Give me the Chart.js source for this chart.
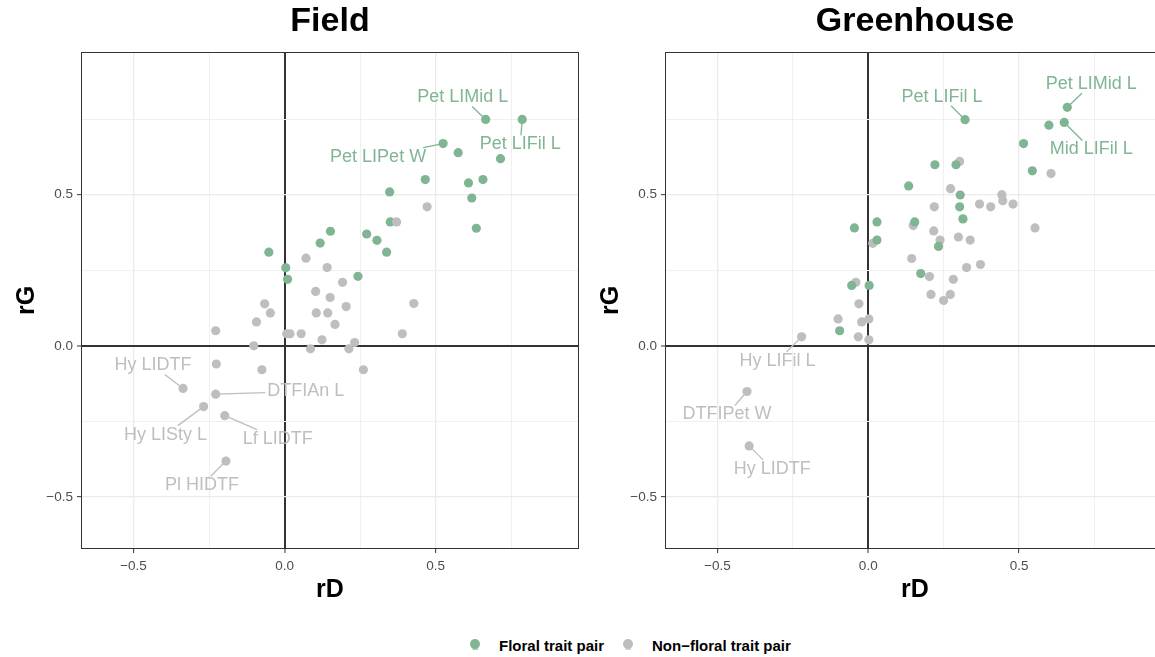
<!DOCTYPE html>
<html>
<head>
<meta charset="utf-8">
<script src="https://cdn.jsdelivr.net/npm/chart.js@4.4.1/dist/chart.umd.min.js"></script>
<style>
  html, body { margin: 0; padding: 0; background: #fff; width: 1155px; height: 657px; overflow: hidden; position: relative; }
  canvas { position: absolute; top: 0; }
  #field { left: 0; }
  #house { left: 584px; }
  #legend { position: absolute; top: 636px; left: 466px; display: flex; align-items: center; white-space: nowrap;
            font: bold 15px "Liberation Sans", Helvetica, Arial, sans-serif; color: #000; }
  .key { position: relative; width: 18px; height: 18px; margin-right: 15px; }
  .key .dot { position: absolute; left: 4px; top: 3px; width: 10px; height: 10px; border-radius: 50%; }
  .key .glyph { position: absolute; left: 6px; top: 3px; font: 11px "Liberation Sans", Arial, sans-serif; line-height: 14px; }
  .item2 { margin-left: 15px; }
</style>
</head>
<body>
<canvas id="field" width="585" height="610"></canvas>
<canvas id="house" width="587" height="610"></canvas>
<div id="legend">
  <span class="key"><span class="dot" style="background:#80b593"></span><span class="glyph" style="color:#80b593">a</span></span>
  <span>Floral trait pair</span>
  <span class="key item2"><span class="dot" style="background:#bebebe"></span><span class="glyph" style="color:#bebebe">a</span></span>
  <span>Non−floral trait pair</span>
</div>
<script>
const FONT = '"Liberation Sans", Helvetica, Arial, sans-serif';
Chart.defaults.font.family = FONT;

// axis ticks that carry a label
const tickValues = [-0.5, 0, 0.5];
const tickLabels = ['−0.5', '0.0', '0.5'];

// Field: floral trait pairs (labelled ones first)
const fieldFloralNames = ['Pet LIMid L', 'Pet LIFil L', 'Pet LIPet W'];
const fieldFloralX = [0.666, 0.787, 0.525, 0.575, 0.715, 0.466, 0.609, 0.657, 0.620, 0.348, 0.350,
  0.635, 0.152, 0.118, 0.272, 0.306, 0.338, -0.052, 0.004, 0.010, 0.243];
const fieldFloralY = [0.749, 0.749, 0.669, 0.639, 0.619, 0.550, 0.539, 0.550, 0.489, 0.509, 0.410,
  0.389, 0.379, 0.340, 0.370, 0.349, 0.310, 0.310, 0.258, 0.220, 0.230];

// Field: non-floral trait pairs
const fieldOtherNames = ['Hy LIDTF', 'DTFIAn L', 'Hy LISty L', 'Lf LIDTF', 'Pl HIDTF'];
const fieldOtherX = [-0.336, -0.228, -0.268, -0.198, -0.194, 0.472, 0.371, 0.071, 0.141, 0.192,
  0.103, 0.151, 0.204, 0.428, -0.066, -0.047, 0.105, 0.143, -0.093, 0.167, -0.228, 0.007, 0.018,
  0.055, 0.390, 0.124, -0.102, 0.086, 0.213, 0.232, -0.226, -0.075, 0.261];
const fieldOtherY = [-0.141, -0.160, -0.201, -0.231, -0.381, 0.460, 0.410, 0.290, 0.259, 0.210,
  0.180, 0.160, 0.130, 0.140, 0.139, 0.109, 0.109, 0.109, 0.079, 0.071, 0.050, 0.040, 0.040,
  0.040, 0.040, 0.020, 0.000, -0.010, -0.010, 0.011, -0.060, -0.079, -0.079];

// Greenhouse: floral trait pairs
const houseFloralNames = ['Pet LIFil L', 'Pet LIMid L', 'Mid LIFil L'];
const houseFloralX = [0.321, 0.660, 0.650, 0.599, 0.515, 0.544, 0.221, 0.291, 0.134, 0.305, 0.303,
  0.314, 0.029, 0.154, -0.046, 0.029, 0.233, 0.174, -0.055, 0.003, -0.095];
const houseFloralY = [0.748, 0.789, 0.739, 0.730, 0.669, 0.579, 0.599, 0.599, 0.529, 0.499, 0.460,
  0.420, 0.410, 0.410, 0.390, 0.350, 0.329, 0.239, 0.200, 0.200, 0.050];

// Greenhouse: non-floral trait pairs
const houseOtherNames = ['Hy LIFil L', 'DTFIPet W', 'Hy LIDTF'];
const houseOtherX = [-0.221, -0.402, -0.395, 0.303, 0.606, 0.273, 0.443, 0.446, 0.480, 0.369,
  0.406, 0.219, 0.553, 0.217, 0.149, 0.015, 0.238, 0.299, 0.338, 0.144, 0.372, 0.326, 0.203,
  0.282, 0.208, 0.272, 0.250, -0.041, -0.031, -0.100, -0.022, 0.002, -0.033, 0.002];
const houseOtherY = [0.030, -0.151, -0.331, 0.610, 0.570, 0.520, 0.500, 0.480, 0.469, 0.469,
  0.460, 0.460, 0.390, 0.380, 0.398, 0.339, 0.350, 0.360, 0.350, 0.289, 0.269, 0.259, 0.229,
  0.220, 0.170, 0.170, 0.150, 0.210, 0.139, 0.089, 0.079, 0.089, 0.030, 0.020];

const floralColor = '#80b593';
const otherColor = '#bebebe';

// where each text label sits relative to its point, in pixels
const fieldTagOffsets = {
  'Pet LIMid L': [-23, -22], 'Pet LIFil L': [-2, 25], 'Pet LIPet W': [-65, 13],
  'Hy LIDTF': [-30, -23], 'DTFIAn L': [90, -3], 'Hy LISty L': [-38, 28],
  'Lf LIDTF': [53, 23], 'Pl HIDTF': [-24, 24]
};
const houseTagOffsets = {
  'Pet LIFil L': [-23, -23], 'Pet LIMid L': [24, -23], 'Mid LIFil L': [27, 27],
  'Hy LIFil L': [-24, 24], 'DTFIPet W': [-20, 23], 'Hy LIDTF': [23, 23]
};

function toPoints(xs, ys) {
  return xs.map((x, i) => ({ x: x, y: ys[i] }));
}

function near(a, b) { return Math.abs(a - b) < 1e-6; }
function tickText(v) {
  const i = tickValues.findIndex(t => near(t, v));
  return i < 0 ? '' : tickLabels[i];
}
function isMajor(v) { return tickValues.some(t => near(t, v)); }

// ggplot-like panel border on all four sides
const panelFrame = {
  id: 'panelFrame',
  afterDraw(chart) {
    const a = chart.chartArea, c = chart.ctx;
    c.save();
    c.strokeStyle = '#333';
    c.lineWidth = 1;
    c.strokeRect(a.left + 0.5, a.top + 0.5, a.right - a.left - 1, a.bottom - a.top - 1);
    c.restore();
  }
};

// text labels with leader segments for the named points
function eachTag(chart, offsets, fn) {
  const xs = chart.scales.x, ys = chart.scales.y;
  chart.data.datasets.forEach(ds => {
    (ds.names || []).forEach((name, i) => {
      const off = offsets[name];
      if (!off) return;
      const px = xs.getPixelForValue(ds.data[i].x);
      const py = ys.getPixelForValue(ds.data[i].y);
      fn(name, px, py, px + off[0], py + off[1], ds.backgroundColor);
    });
  });
}

const repelTags = {
  id: 'repelTags',
  beforeDatasetsDraw(chart, args, opts) {
    const c = chart.ctx;
    c.save();
    c.font = '18px ' + FONT;
    eachTag(chart, opts.offsets, (name, px, py, lx, ly, color) => {
      const hw = c.measureText(name).width / 2 + 2;
      const hh = 9;
      const dx = px - lx, dy = py - ly;
      const s = Math.min(dx ? hw / Math.abs(dx) : Infinity, dy ? hh / Math.abs(dy) : Infinity);
      if (s >= 1) return;
      c.strokeStyle = color;
      c.lineWidth = 1.3;
      c.beginPath();
      c.moveTo(px, py);
      c.lineTo(lx + s * dx, ly + s * dy);
      c.stroke();
    });
    c.restore();
  },
  afterDatasetsDraw(chart, args, opts) {
    const c = chart.ctx;
    c.save();
    c.font = '18px ' + FONT;
    c.textAlign = 'center';
    c.textBaseline = 'middle';
    eachTag(chart, opts.offsets, (name, px, py, lx, ly, color) => {
      c.fillStyle = color;
      c.fillText(name, lx, ly);
    });
    c.restore();
  }
};

function gridOptions() {
  return {
    color: c => (c.tick && near(c.tick.value, 0)) ? '#333' : (c.tick && isMajor(c.tick.value) ? '#ebebeb' : '#f0f0f0'),
    lineWidth: c => (c.tick && near(c.tick.value, 0)) ? 2 : (c.tick && isMajor(c.tick.value) ? 1.3 : 1),
    tickColor: c => (c.tick && isMajor(c.tick.value)) ? '#333' : 'rgba(0,0,0,0)',
    tickWidth: 1,
    tickLength: 4,
    drawTicks: true
  };
}

function makePanel(id, title, floral, other, xMax, offsets, floralOnTop) {
  return new Chart(document.getElementById(id), {
    type: 'scatter',
    data: {
      datasets: [
        { label: 'Floral trait pair', data: floral.points, names: floral.names,
          backgroundColor: floralColor, order: floralOnTop ? 0 : 1 },
        { label: 'Non-floral trait pair', data: other.points, names: other.names,
          backgroundColor: otherColor, order: floralOnTop ? 1 : 0 }
      ]
    },
    options: {
      responsive: false,
      animation: false,
      events: [],
      layout: { padding: { left: 0, right: 6, top: 0, bottom: 0 } },
      elements: { point: { radius: 4.6, borderWidth: 0, hoverRadius: 4.6 } },
      scales: {
        x: {
          type: 'linear', min: -0.674, max: xMax,
          ticks: { stepSize: 0.25, includeBounds: false, autoSkip: false, maxRotation: 0,
                   padding: 5, color: '#4d4d4d', font: { size: 13.5 }, callback: v => tickText(v) },
          grid: gridOptions(),
          border: { display: false },
          title: { display: true, text: 'rD', color: '#000',
                   font: { size: 25, weight: 'bold' }, padding: { top: 0, bottom: 5 } },
          afterFit(s) { s.height = 61; }
        },
        y: {
          type: 'linear', min: -0.672, max: 0.972,
          ticks: { stepSize: 0.25, includeBounds: false, autoSkip: false,
                   padding: 4, color: '#4d4d4d', font: { size: 13.5 }, callback: v => tickText(v) },
          grid: gridOptions(),
          border: { display: false },
          title: { display: true, text: 'rG', color: '#000',
                   font: { size: 25, weight: 'bold' }, padding: { top: 12, bottom: 0 } },
          afterFit(s) { s.width = 81; }
        }
      },
      plugins: {
        legend: { display: false },
        tooltip: { enabled: false },
        title: { display: true, text: title, fullSize: false, color: '#000',
                 font: { size: 34, weight: 'bold' }, padding: { top: 1, bottom: 10.2 } },
        repelTags: { offsets: offsets }
      }
    },
    plugins: [panelFrame, repelTags]
  });
}

makePanel('field', 'Field',
  { points: toPoints(fieldFloralX, fieldFloralY), names: fieldFloralNames },
  { points: toPoints(fieldOtherX, fieldOtherY), names: fieldOtherNames },
  0.975, fieldTagOffsets, false);

makePanel('house', 'Greenhouse',
  { points: toPoints(houseFloralX, houseFloralY), names: houseFloralNames },
  { points: toPoints(houseOtherX, houseOtherY), names: houseOtherNames },
  0.984, houseTagOffsets, true);
</script>
</body>
</html>
